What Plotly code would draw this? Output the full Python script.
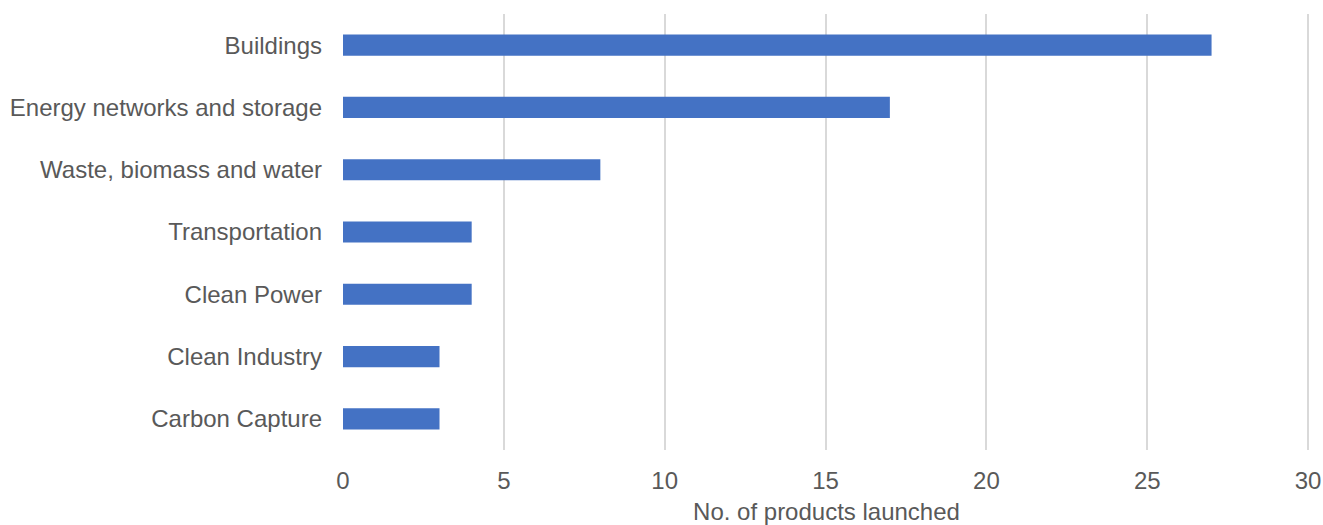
import plotly.graph_objects as go

categories = [
    "Buildings",
    "Energy networks and storage",
    "Waste, biomass and water",
    "Transportation",
    "Clean Power",
    "Clean Industry",
    "Carbon Capture",
]
products_launched = [27, 17, 8, 4, 4, 3, 3]
x_ticks = [0, 5, 10, 15, 20, 25, 30]

text_color = "#595959"
font_family = "Liberation Sans, Arial, sans-serif"

fig = go.Figure(
    go.Bar(
        x=products_launched,
        y=categories,
        orientation="h",
        marker=dict(color="#4472C4", line=dict(width=0)),
        width=0.34,
    )
)

fig.update_layout(
    width=1323,
    height=525,
    margin=dict(l=343, r=13, t=14, b=75),
    paper_bgcolor="white",
    plot_bgcolor="white",
    showlegend=False,
    font=dict(family=font_family, size=24, color=text_color),
)

# a little headroom past 30 so the last gridline is drawn inside the plot area
fig.update_xaxes(
    range=[0, 30.06],
    tickvals=x_ticks,
    showgrid=True,
    gridcolor="#D9D9D9",
    gridwidth=2,
    zeroline=False,
    showline=False,
    ticks="",
    automargin=False,
    ticklabelstandoff=14,
    tickfont=dict(size=24, color=text_color),
    title=dict(text="No. of products launched", font=dict(size=24, color=text_color), standoff=12),
)

fig.update_yaxes(
    categoryorder="array",
    categoryarray=categories[::-1],
    showgrid=False,
    zeroline=False,
    showline=False,
    ticks="",
    automargin=False,
    ticklabelstandoff=20,
    tickfont=dict(size=24, color=text_color),
)

fig.write_html("out.html")
